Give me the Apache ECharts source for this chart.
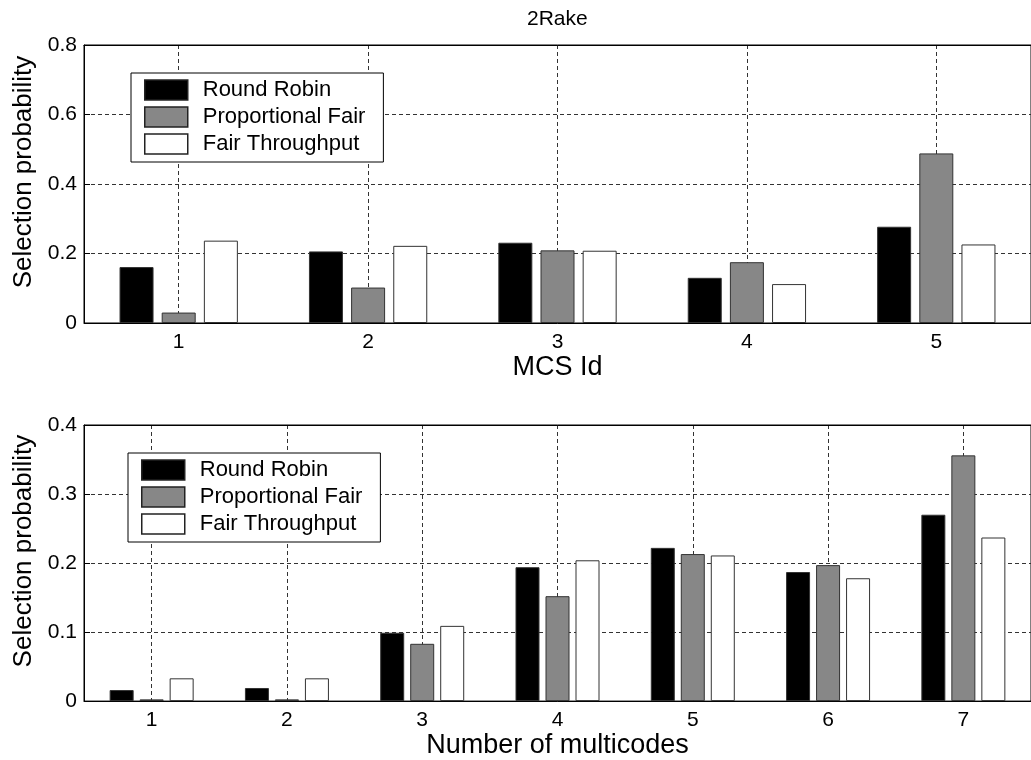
<!DOCTYPE html>
<html>
<head>
<meta charset="utf-8">
<script src="https://cdn.jsdelivr.net/npm/echarts@6/dist/echarts.min.js"></script>
<style>
  html, body { margin: 0; background: #fff; }
  #chart { width: 1031px; height: 760px; }
</style>
</head>
<body>
<div id="chart"></div>
<script>
// top panel: MCS Id
var mcsIds = ['1', '2', '3', '4', '5'];
var mcsRoundRobin = [0.161, 0.206, 0.231, 0.130, 0.277];
var mcsPropFair = [0.030, 0.102, 0.209, 0.175, 0.488];
var mcsFairThroughput = [0.237, 0.222, 0.208, 0.112, 0.226];

// bottom panel: number of multicodes
var multicodes = ['1', '2', '3', '4', '5', '6', '7'];
var codeRoundRobin = [0.016, 0.019, 0.099, 0.194, 0.222, 0.187, 0.270];
var codePropFair = [0.0025, 0.0025, 0.083, 0.152, 0.213, 0.197, 0.356];
var codeFairThroughput = [0.033, 0.033, 0.109, 0.204, 0.211, 0.178, 0.237];

var seriesNames = ['Round Robin', 'Proportional Fair', 'Fair Throughput'];
var fills = ['#000000', '#878787', '#ffffff'];

var font = '"Liberation Sans", Arial, Helvetica, sans-serif';
var gridDash = { color: '#333', width: 1, type: [4, 3] };

function xAxes(cats, gridIndex, name) {
  return [{
    type: 'category',
    gridIndex: gridIndex,
    data: cats,
    name: name,
    nameLocation: 'middle',
    nameGap: 30,
    nameTextStyle: { fontFamily: font, fontSize: 27, color: '#000' },
    axisLine: { lineStyle: { color: '#000' } },
    axisTick: { inside: true, alignWithLabel: true, length: 6, lineStyle: { color: '#000' } },
    axisLabel: { fontFamily: font, fontSize: 21, color: '#000', margin: 9 },
    splitLine: { show: true, alignWithLabel: true, lineStyle: gridDash }
  }, {
    // only for the inward ticks along the top border
    type: 'category',
    gridIndex: gridIndex,
    data: cats,
    position: 'top',
    axisLine: { lineStyle: { color: '#000' } },
    axisTick: { inside: true, alignWithLabel: true, length: 6, lineStyle: { color: '#000' } },
    axisLabel: { show: false },
    splitLine: { show: false }
  }];
}

function yAxis(gridIndex, max, step) {
  return {
    type: 'value',
    gridIndex: gridIndex,
    min: 0,
    max: max,
    interval: step,
    name: 'Selection probability',
    nameLocation: 'middle',
    nameGap: 44,
    nameTextStyle: { fontFamily: font, fontSize: 26, color: '#000', padding: [0, 0, 0, 24] },
    axisLine: { show: true, lineStyle: { color: '#000' } },
    axisTick: { show: true, inside: true, length: 6, lineStyle: { color: '#000' } },
    axisLabel: { fontFamily: font, fontSize: 21, color: '#000', margin: 7 },
    splitLine: { show: true, lineStyle: gridDash }
  };
}

function bars(values, i, xIndex, yIndex, width, gap) {
  return {
    type: 'bar',
    name: seriesNames[i],
    xAxisIndex: xIndex,
    yAxisIndex: yIndex,
    data: values,
    barWidth: width,
    barGap: gap,
    silent: true,
    itemStyle: { color: fills[i], borderColor: '#333', borderWidth: 1 }
  };
}

function legend(left, top) {
  return {
    orient: 'vertical',
    left: left,
    top: top,
    data: seriesNames,
    icon: 'rect',
    itemWidth: 43,
    itemHeight: 20,
    itemGap: 5,
    padding: [6, 18, 7, 13],
    borderColor: '#000',
    borderWidth: 1,
    borderRadius: 0,
    backgroundColor: '#fff',
    selectedMode: false,
    itemStyle: { borderColor: '#222', borderWidth: 1.5 },
    textStyle: { fontFamily: font, fontSize: 22, color: '#000', padding: [0, 0, 0, 10] }
  };
}

var chart = echarts.init(document.getElementById('chart'));

chart.setOption({
  animation: false,
  backgroundColor: '#fff',
  title: {
    text: '2Rake',
    left: 527,
    top: 9,
    padding: 0,
    textStyle: { fontFamily: font, fontSize: 21, fontWeight: 'normal', color: '#000' }
  },
  legend: [legend(131, 73), legend(128, 453)],
  grid: [
    { left: 84, top: 45, width: 953, height: 278, show: true, borderColor: '#000', borderWidth: 1 },
    { left: 84, top: 425, width: 953, height: 278, show: true, borderColor: '#000', borderWidth: 1 }
  ],
  xAxis: xAxes(mcsIds, 0, 'MCS Id').concat(xAxes(multicodes, 1, 'Number of multicodes')),
  yAxis: [yAxis(0, 0.8, 0.2), yAxis(1, 0.4, 0.1)],
  series: [
    bars(mcsRoundRobin, 0, 0, 0, 34, '24%'),
    bars(mcsPropFair, 1, 0, 0, 34, '24%'),
    bars(mcsFairThroughput, 2, 0, 0, 34, '24%'),
    bars(codeRoundRobin, 0, 2, 1, 24, '25%'),
    bars(codePropFair, 1, 2, 1, 24, '25%'),
    bars(codeFairThroughput, 2, 2, 1, 24, '25%')
  ]
});
</script>
</body>
</html>
